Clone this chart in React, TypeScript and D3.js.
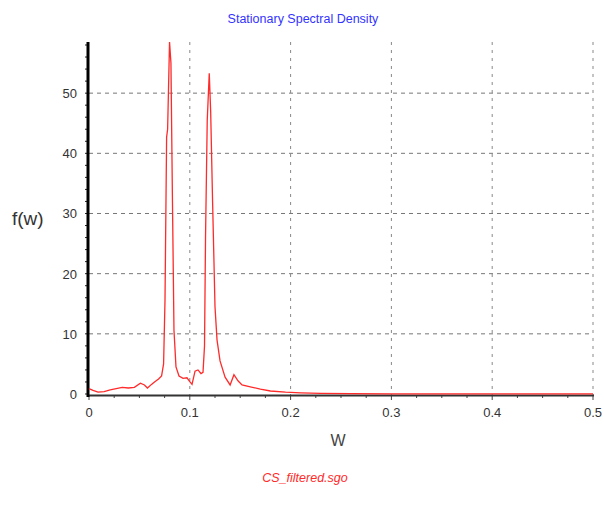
import React from "react";
import * as d3 from "d3";

const ws = [0, 0.004, 0.009, 0.015, 0.021, 0.027, 0.033, 0.039, 0.045, 0.051, 0.055, 0.058, 0.062, 0.065, 0.069, 0.072, 0.074, 0.0754, 0.077, 0.078, 0.0799, 0.0813, 0.0828, 0.0843, 0.0863, 0.0893, 0.0933, 0.0972, 0.1002, 0.1022, 0.1052, 0.1081, 0.1111, 0.1131, 0.1146, 0.1156, 0.1173, 0.1193, 0.1207, 0.1226, 0.125, 0.127, 0.13, 0.135, 0.14, 0.1438, 0.1478, 0.1518, 0.16, 0.17, 0.18, 0.195, 0.21, 0.23, 0.26, 0.3, 0.4, 0.5];
const fw = [0.9, 0.6, 0.3, 0.4, 0.7, 0.9, 1.1, 1.0, 1.1, 1.8, 1.5, 1.0, 1.6, 2.0, 2.5, 3.0, 5.0, 15.6, 42.7, 44, 58.5, 55, 32, 10.6, 4.5, 3.0, 2.6, 2.7, 2.0, 1.6, 3.8, 4.0, 3.4, 3.6, 8, 26, 45.5, 53.3, 47, 32, 14.5, 9, 5.5, 2.8, 1.5, 3.2, 2.2, 1.5, 1.2, 0.8, 0.5, 0.3, 0.2, 0.1, 0.05, 0.02, 0.01, 0.01];
const xTicks = [0, 0.1, 0.2, 0.3, 0.4, 0.5];
const yTicks = [0, 10, 20, 30, 40, 50];
const title = "Stationary Spectral Density";
const xLabel = "W";
const yLabel = "f(w)";
const fileName = "CS_filtered.sgo";

export default function App() {
  const W = 604, H = 508;
  const x = d3.scaleLinear().domain([0, 0.5]).range([89, 593]);
  const y = d3.scaleLinear().domain([0, 58.5]).range([394, 42]);
  const line = d3.line<number>().x((_, i) => x(ws[i])).y((d) => y(d));
  const xMinor = d3.range(0, 0.5001, 0.025);
  const yMinor = d3.range(0, 58.5, 2);
  const font = "'Liberation Sans', Arial, sans-serif";
  return (
    <svg width={W} height={H} style={{ position: "absolute", left: 0, top: 0, background: "#fff" }} fontFamily={font}>
      <rect width={W} height={H} fill="#fff" />
      <text x={303} y={23} textAnchor="middle" fill="#3333ff" fontSize={12.5}>{title}</text>
      {yTicks.filter((t) => t > 0).map((t) => (
        <line key={"gy" + t} x1={89} x2={593} y1={y(t)} y2={y(t)} stroke="#777" strokeDasharray="4,4" />
      ))}
      {xTicks.filter((t) => t > 0).map((t) => (
        <line key={"gx" + t} x1={x(t)} x2={x(t)} y1={42} y2={395} stroke="#888" strokeDasharray="3,5" />
      ))}
      {xMinor.map((t, i) => (
        <line key={"xm" + i} x1={x(t)} x2={x(t)} y1={395} y2={i % 4 === 0 ? 400 : 398} stroke="#444" />
      ))}
      {yMinor.map((t, i) => (
        <line key={"ym" + i} x1={85} x2={89} y1={y(t)} y2={y(t)} stroke="#222" />
      ))}
      <line x1={88} x2={594} y1={395.5} y2={395.5} stroke="#333" strokeWidth={2} />
      <line x1={88} x2={88} y1={42} y2={397} stroke="#000" strokeWidth={3} />
      <path d={line(fw) || ""} fill="none" stroke="#ff2a2a" strokeWidth={1.3} />
      {yTicks.map((t) => (
        <text key={"yl" + t} x={77} y={y(t) + 5} textAnchor="end" fontSize={13} fill="#333">{t}</text>
      ))}
      {xTicks.map((t) => (
        <text key={"xl" + t} x={x(t)} y={417} textAnchor="middle" fontSize={13} fill="#333">{t === 0 ? "0" : t.toFixed(1)}</text>
      ))}
      <text x={12} y={225} fontSize={19} fill="#333">{yLabel}</text>
      <text x={338} y={446} textAnchor="middle" fontSize={16} fill="#444">{xLabel}</text>
      <text x={305} y={482} textAnchor="middle" fontSize={12.5} fontStyle="italic" fill="#ff2a2a">{fileName}</text>
    </svg>
  );
}
